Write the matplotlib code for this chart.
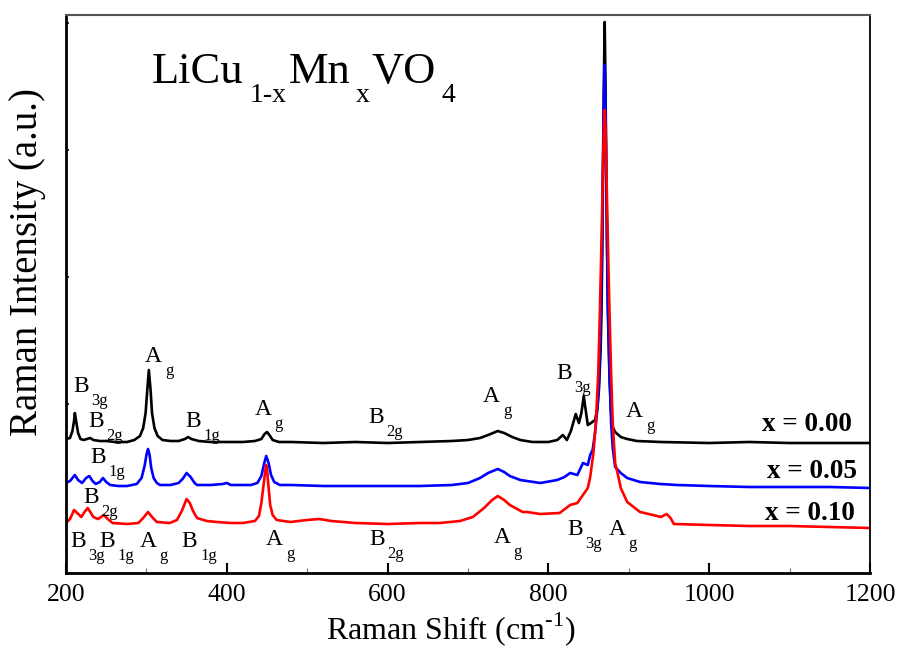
import matplotlib
matplotlib.use('Agg')
import matplotlib.pyplot as plt
from matplotlib.ticker import MultipleLocator, FixedLocator

plt.rcParams['font.family'] = ['Liberation Serif', 'DejaVu Serif']
plt.rcParams['mathtext.fontset'] = 'custom'
plt.rcParams['mathtext.rm'] = 'Liberation Serif'

# ---------------- data (Raman shift in cm^-1, intensity in a.u.) ----------------
x0_shift = [200, 205, 208, 210, 211, 213, 215, 218, 222, 226, 230, 234, 242, 250, 261, 276,
            285, 292, 296, 299, 301, 303, 305, 307, 310, 314, 320, 330, 340, 348, 352, 356,
            365, 380, 400, 420, 435, 443, 447, 450, 453, 457, 465, 480, 520, 560, 600, 640,
            680, 700, 715, 725, 737, 745, 755, 765, 780, 800, 811, 818, 823, 828, 834, 838,
            841, 844, 846, 849, 853, 858, 861, 863, 865, 866, 867, 868, 869, 870, 871, 872,
            873, 874, 876, 878, 880, 883, 890, 898, 910, 940, 1000, 1050, 1100, 1150, 1200]
x0_int = [134, 135, 142, 152, 160, 150, 140, 134, 133, 134, 135, 133, 132, 132, 131, 131,
          133, 137, 145, 160, 182, 203, 185, 160, 145, 137, 133, 132, 132, 134, 136, 134,
          132, 131, 131, 131, 132, 134, 139, 141, 138, 133, 131, 131, 130, 131, 130, 131,
          132, 133, 135, 138, 142, 140, 136, 133, 131, 131, 133, 138, 133, 142, 159, 150,
          160, 177, 165, 148, 150, 153, 165, 185, 225, 260, 320, 400, 490, 551, 490, 400,
          320, 260, 195, 160, 146, 141, 136, 134, 132, 131, 130, 131, 130, 130, 130]

x05_shift = [200, 205, 211, 215, 220, 225, 229, 233, 237, 242, 246, 250, 255, 265, 276, 288,
             294, 298, 300, 302, 304, 306, 309, 313, 317, 330, 340, 345, 350, 355, 360, 363,
             380, 395, 400, 405, 420, 430, 438, 443, 446, 449, 452, 455, 459, 466, 480, 520,
             560, 600, 640, 680, 700, 715, 725, 737, 745, 752, 765, 790, 811, 820, 827, 836,
             843, 849, 852, 855, 858, 861, 863, 865, 866, 867, 868, 869, 870, 871, 872, 873,
             874, 876, 878, 880, 883, 890, 898, 914, 939, 960, 1000, 1050, 1100, 1150, 1200]
x05_int = [90, 92, 98, 93, 90, 95, 97, 92, 89, 91, 95, 91, 88, 87, 87, 89,
           95, 108, 118, 124, 118, 105, 95, 90, 88, 88, 90, 94, 100, 96, 90, 88,
           88, 89, 90, 88, 88, 88, 90, 97, 108, 117, 110, 98, 91, 88, 88, 87,
           87, 87, 87, 88, 90, 95, 100, 104, 101, 97, 93, 90, 93, 96, 100, 98,
           110, 108, 118, 123, 140, 165, 195, 250, 290, 350, 420, 480, 508, 470, 400, 330,
           270, 200, 150, 125, 106, 100, 95, 91, 89, 88, 87, 86, 86, 86, 85]

x10_shift = [200, 205, 210, 214, 219, 223, 227, 231, 234, 240, 247, 252, 258, 276, 290, 296,
             302, 307, 313, 329, 338, 344, 348, 350, 354, 358, 363, 375, 388, 405, 420, 435,
             440, 443, 446, 448, 449, 450, 452, 454, 457, 462, 479, 500, 515, 530, 560, 600,
             640, 665, 690, 706, 720, 730, 737, 745, 752, 768, 773, 790, 814, 827, 836, 843,
             849, 852, 856, 859, 862, 864, 866, 868, 869, 870, 871, 872, 874, 876, 878, 880,
             883, 886, 890, 898, 914, 930, 940, 947, 952, 956, 1000, 1050, 1100, 1150, 1200]
x10_int = [50, 54, 63, 60, 56, 61, 65, 60, 56, 54, 58, 54, 50, 49, 50, 55,
           61, 56, 51, 50, 53, 62, 70, 74, 70, 62, 55, 52, 51, 50, 50, 52,
           57, 70, 90, 103, 108, 104, 85, 68, 58, 53, 51, 53, 54, 52, 50, 49,
           50, 50, 52, 56, 65, 73, 77, 73, 68, 61, 61, 59, 60, 68, 70, 78,
           85, 96, 120, 150, 200, 260, 330, 410, 445, 463, 445, 410, 330, 260, 200, 150,
           110, 100, 85, 71, 61, 58, 56, 59, 55, 49, 48, 47, 47, 46, 45]

series_labels = ['x = 0.00', 'x = 0.05', 'x = 0.10']
series_colors = ['black', 'blue', 'red']
label_pos = [(1177.6, 142), (1183.8, 95), (1181.4, 53)]

x_ticks = [200, 400, 600, 800, 1000, 1200]

# mode annotations: (shift, intensity, main, subscript)
modes = [
    (208.7, 181, 'B', '3g'), (227.4, 146, 'B', '2g'), (298.3, 211, 'A', 'g'),
    (348.0, 146, 'B', '1g'), (435.0, 158, 'A', 'g'), (575.6, 150, 'B', '2g'),
    (718.7, 171, 'A', 'g'), (809.5, 194, 'B', '3g'), (896.5, 156, 'A', 'g'),
    (229.9, 110, 'B', '1g'),
    (221.0, 70, 'B', '2g'),
    (205.0, 26, 'B', '3g'), (241.0, 26, 'B', '1g'), (292.0, 26, 'A', 'g'),
    (344.0, 26, 'B', '1g'), (448.8, 28, 'A', 'g'), (577.0, 28, 'B', '2g'),
    (732.0, 30, 'A', 'g'), (823.0, 38, 'B', '3g'), (875.0, 38, 'A', 'g'),
]

# ---------------- figure ----------------
fig = plt.figure(figsize=(9.01, 6.47), dpi=100)
ax = fig.add_axes([66 / 901, 1 - 573 / 647, 804 / 901, 558 / 647])

for xs, ys, c in zip([x0_shift, x05_shift, x10_shift], [x0_int, x05_int, x10_int], series_colors):
    ax.plot(xs, ys, color=c, lw=1.9, solid_joinstyle='round')

ax.set_xlim(200, 1200)
ax.set_ylim(0, 558)

ax.xaxis.set_major_locator(FixedLocator(x_ticks))
ax.xaxis.set_minor_locator(MultipleLocator(100))
ax.yaxis.set_major_locator(FixedLocator([169, 296, 423, 550]))
ax.set_yticklabels([])
ax.tick_params(axis='x', which='major', direction='in', length=7, width=1.5, labelsize=18.5, pad=8)
ax.tick_params(axis='x', which='minor', direction='in', length=3.5, width=0.8, color='#777777')
ax.tick_params(axis='y', which='major', direction='in', length=2, width=1.2)
ax.tick_params(top=False, right=False)

for side in ['left', 'bottom']:
    ax.spines[side].set_linewidth(2.0)
ax.spines['top'].set_linewidth(1.5)
ax.spines['top'].set_color('#555555')
ax.spines['right'].set_linewidth(1.3)

ax.set_xlabel(r'Raman Shift (cm$^{\text{-1}}$)', fontsize=23)
ax.xaxis.set_label_coords(0.479, -0.066)
ax.set_ylabel('Raman Intensity (a.u.)', fontsize=28)
ax.yaxis.set_label_coords(-0.025, 0.557)

for (lx, ly), lab in zip(label_pos, series_labels):
    ax.text(lx, ly, lab, fontsize=19.5, fontweight='bold', ha='right', va='baseline')


def sub_label(x, y, main, sub, size=17, subsize=12, drop=6.0, gap=2.0, transform=None):
    tr = transform if transform is not None else ax.transData
    t = ax.text(x, y, main, fontsize=size, va='baseline', transform=tr)
    ax.annotate(sub, xy=(1, 0), xycoords=t, xytext=(gap, -drop),
                textcoords='offset points', fontsize=subsize, va='baseline')
    return t


for mx, my, mm, ms in modes:
    sub_label(mx, my, mm, ms)

# compound title
title_parts = [('LiCu', False), ('1-x', True), ('Mn', False), ('x', True), ('VO', False), ('4', True)]
first = ax.text(0.107, 0.878, title_parts[0][0], fontsize=32, va='baseline', transform=ax.transAxes)
prev = first
for txt, is_sub in title_parts[1:]:
    if is_sub:
        a = ax.annotate(txt, xy=(1, 0), xycoords=(prev, first), xytext=(4, -7),
                        textcoords='offset points', fontsize=20, va='baseline')
    else:
        a = ax.annotate(txt, xy=(1, 0), xycoords=(prev, first), xytext=(1.5, 0),
                        textcoords='offset points', fontsize=32, va='bottom')
    prev = a

fig.savefig('out.png', dpi=100)
